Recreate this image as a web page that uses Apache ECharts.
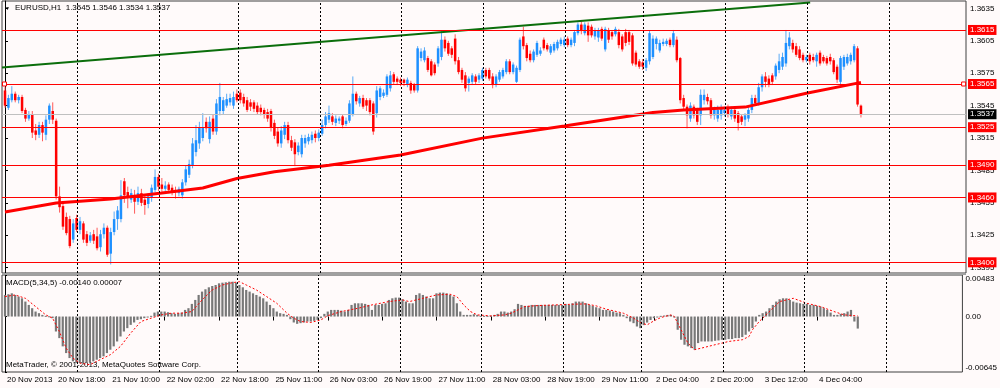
<!DOCTYPE html>
<html><head><meta charset="utf-8">
<script src="https://cdn.jsdelivr.net/npm/echarts@6/dist/echarts.min.js"></script>
<style>html,body{margin:0;padding:0;background:#fffafa;}#c{width:1000px;height:388px;}</style>
</head><body><div id="c"></div>
<script>
// ---------- DATA ----------
const headerText = 'EURUSD,H1  1.3545 1.3546 1.3534 1.3537';
const macdTitle = 'MACD(5,34,5) -0.00140 0.00007';
const copyright = 'MetaTrader, \u00a9 2001-2013, MetaQuotes Software Corp.';

// bar index -> time label (bottom axis)
const timeTicks = [[0,'20 Nov 2013'],[15,'20 Nov 18:00'],[31,'21 Nov 10:00'],[47,'22 Nov 02:00'],[63,'22 Nov 18:00'],[79,'25 Nov 11:00'],[95,'26 Nov 03:00'],[111,'26 Nov 19:00'],[127,'27 Nov 11:00'],[143,'28 Nov 03:00'],[159,'28 Nov 19:00'],[175,'29 Nov 11:00'],[191,'2 Dec 04:00'],[207,'2 Dec 20:00'],[223,'3 Dec 12:00'],[239,'4 Dec 04:00']];
// first bar of each day (period separators)
const daySeparators = [21,45,68,92,116,140,164,187,211,235,259];

const priceTicks = [1.3395,1.3425,1.3455,1.3485,1.3515,1.3545,1.3575,1.3605,1.3635];
const levels = [1.3615,1.3565,1.3525,1.3490,1.3460,1.3400];
const selectedLevel = 1.3565;
const bidPrice = 1.3537;
const macdTicks = [-0.00645, 0, 0.00483];

// H1 candles: [open, close, low, high] in units of 0.0001
const candles = [
[13559,13545,13543,13562],[13543,13552,13541,13555],[13550,13556,13548,13563],[13556,13550,13548,13558],[13550,13553,13547,13555],
[13553,13540,13538,13555],[13541,13533,13530,13543],[13533,13537,13531,13540],[13537,13520,13515,13540],[13522,13518,13513,13528],
[13518,13527,13515,13530],[13527,13520,13512,13530],[13518,13532,13513,13536],[13532,13545,13528,13547],[13540,13532,13528,13548],
[13531,13461,13458,13533],[13461,13451,13446,13470],[13452,13433,13430,13455],[13442,13427,13425,13446],[13440,13415,13413,13443],
[13421,13436,13418,13440],[13441,13430,13428,13444],[13430,13438,13426,13442],[13436,13421,13418,13438],[13426,13418,13415,13429],
[13420,13425,13418,13428],[13426,13420,13417,13430],[13424,13413,13411,13432],[13414,13426,13410,13430],[13426,13432,13422,13436],
[13432,13407,13405,13434],[13408,13428,13398,13432],[13428,13440,13425,13447],[13440,13448,13430,13452],[13440,13462,13437,13476],
[13475,13462,13455,13478],[13465,13460,13450,13470],[13458,13464,13455,13468],[13462,13456,13445,13467],[13456,13464,13453,13470],
[13464,13455,13452,13468],[13458,13453,13444,13462],[13454,13461,13450,13464],[13460,13469,13456,13472],[13467,13479,13465,13486],
[13479,13470,13466,13482],[13472,13468,13465,13478],[13468,13471,13466,13475],[13472,13467,13464,13474],[13469,13465,13462,13472],
[13467,13465,13459,13470],[13464,13468,13461,13470],[13462,13474,13459,13477],[13474,13486,13471,13490],[13481,13491,13478,13495],
[13490,13510,13487,13515],[13502,13513,13498,13527],[13510,13525,13505,13530],[13515,13525,13512,13538],[13530,13524,13520,13534],
[13514,13530,13510,13535],[13533,13521,13518,13537],[13521,13547,13518,13551],[13540,13553,13536,13566],[13540,13550,13537,13553],
[13545,13551,13543,13556],[13548,13552,13545,13556],[13545,13553,13542,13558],[13556,13550,13548,13560],[13557,13550,13547,13560],
[13553,13547,13544,13556],[13550,13541,13539,13553],[13548,13544,13540,13551],[13548,13542,13539,13550],[13545,13539,13537,13548],
[13543,13539,13536,13546],[13541,13537,13533,13543],[13539,13533,13530,13542],[13540,13525,13521,13542],[13529,13517,13514,13532],
[13521,13510,13507,13525],[13510,13522,13506,13526],[13518,13527,13514,13530],[13527,13513,13510,13530],[13513,13506,13503,13517],
[13511,13500,13489,13514],[13502,13508,13499,13511],[13500,13515,13497,13518],[13510,13515,13506,13518],[13512,13516,13509,13519],
[13513,13518,13510,13521],[13519,13515,13511,13522],[13515,13520,13512,13523],[13519,13527,13517,13532],[13527,13535,13524,13539],
[13532,13538,13529,13545],[13535,13530,13527,13538],[13529,13533,13526,13536],[13531,13533,13528,13535],[13535,13527,13524,13537],
[13528,13531,13526,13534],[13531,13547,13529,13550],[13537,13556,13535,13572],[13556,13549,13546,13558],[13547,13552,13544,13554],
[13552,13544,13542,13555],[13550,13545,13540,13552],[13550,13539,13536,13552],[13547,13521,13518,13549],[13538,13559,13534,13563],
[13553,13561,13550,13563],[13554,13557,13552,13560],[13555,13572,13553,13574],[13561,13573,13558,13577],[13574,13567,13565,13576],
[13570,13567,13564,13572],[13569,13566,13563,13571],[13569,13566,13563,13570],[13564,13569,13562,13571],[13566,13559,13556,13568],
[13564,13559,13557,13566],[13559,13598,13557,13600],[13589,13595,13586,13598],[13587,13596,13585,13599],[13589,13578,13576,13591],
[13586,13573,13572,13588],[13583,13575,13573,13585],[13584,13598,13581,13600],[13590,13606,13587,13614],[13606,13598,13595,13609],
[13603,13593,13591,13605],[13598,13592,13589,13600],[13607,13586,13583,13611],[13587,13576,13574,13590],[13578,13569,13566,13580],
[13573,13561,13558,13576],[13566,13570,13558,13572],[13567,13573,13564,13575],[13572,13567,13565,13574],[13569,13573,13566,13575],
[13570,13578,13568,13580],[13578,13572,13570,13580],[13578,13570,13568,13580],[13572,13564,13561,13575],[13564,13572,13562,13574],
[13569,13576,13567,13578],[13572,13578,13570,13580],[13576,13586,13574,13588],[13586,13576,13574,13588],[13576,13583,13574,13585],
[13567,13580,13566,13582],[13578,13606,13576,13608],[13609,13600,13597,13618],[13601,13589,13586,13603],[13593,13587,13585,13596],
[13587,13595,13585,13597],[13592,13603,13590,13605],[13593,13596,13591,13599],[13606,13598,13596,13608],[13601,13597,13595,13603],
[13594,13600,13592,13602],[13596,13602,13594,13604],[13598,13604,13596,13606],[13602,13606,13600,13608],[13601,13606,13599,13609],
[13607,13601,13599,13609],[13601,13606,13599,13608],[13603,13613,13600,13615],[13612,13620,13610,13622],[13620,13614,13611,13623],
[13612,13620,13610,13622],[13619,13610,13604,13622],[13618,13610,13608,13620],[13609,13615,13606,13617],[13608,13615,13604,13617],
[13616,13607,13605,13618],[13597,13616,13595,13618],[13615,13606,13603,13617],[13613,13609,13606,13615],[13611,13616,13609,13618],
[13613,13601,13598,13616],[13609,13597,13595,13611],[13613,13603,13600,13616],[13613,13604,13601,13615],[13610,13584,13582,13612],
[13594,13583,13581,13596],[13586,13581,13579,13588],[13585,13581,13578,13588],[13580,13587,13577,13589],[13586,13612,13583,13614],
[13590,13607,13588,13610],[13602,13607,13597,13609],[13596,13603,13594,13606],[13602,13604,13600,13607],[13602,13605,13600,13607],
[13606,13601,13599,13608],[13601,13612,13599,13615],[13606,13587,13585,13609],[13589,13550,13547,13590],[13552,13544,13540,13555],
[13544,13536,13524,13546],[13533,13545,13530,13548],[13544,13536,13533,13546],[13541,13530,13527,13543],[13536,13555,13527,13560],
[13550,13555,13546,13560],[13553,13549,13546,13556],[13550,13536,13533,13552],[13536,13541,13532,13544],[13533,13541,13530,13545],
[13536,13542,13532,13546],[13538,13541,13535,13544],[13543,13537,13534,13546],[13535,13541,13532,13544],[13541,13533,13530,13544],
[13538,13529,13522,13540],[13535,13530,13527,13537],[13532,13536,13526,13538],[13533,13541,13530,13544],[13541,13552,13538,13555],
[13552,13547,13545,13555],[13547,13562,13545,13566],[13562,13572,13558,13574],[13572,13567,13562,13576],[13570,13565,13562,13573],
[13573,13567,13564,13575],[13572,13582,13569,13584],[13578,13586,13575,13593],[13581,13590,13578,13594],[13584,13603,13581,13615],
[13600,13608,13597,13613],[13603,13597,13594,13606],[13600,13592,13590,13603],[13597,13589,13587,13600],[13592,13587,13585,13594],
[13587,13590,13585,13592],[13592,13586,13583,13594],[13590,13587,13585,13593],[13586,13592,13581,13594],[13594,13584,13582,13596],
[13590,13586,13584,13592],[13589,13584,13582,13591],[13590,13586,13583,13593],[13587,13576,13574,13589],[13581,13569,13566,13583],
[13567,13589,13565,13591],[13581,13590,13578,13592],[13584,13590,13582,13593],[13586,13592,13583,13594],[13587,13600,13585,13602],
[13598,13546,13544,13600],[13545,13537,13534,13546]
];

// MACD main (histogram), units of 0.00001, one per bar
const macdHist = [
251,259,270,251,232,212,174,135,97,58,
39,19,8,3,-19,-174,-251,-347,-425,-483,
-521,-541,-541,-548,-541,-533,-521,-502,-483,-463,
-425,-386,-347,-290,-232,-174,-135,-97,-69,-39,
-31,-19,-8,8,46,58,58,58,50,39,
31,39,46,77,97,147,193,251,290,317,
340,355,367,386,394,398,405,405,394,367,
340,309,290,270,251,232,212,174,135,97,
58,39,31,19,-31,-69,-85,-77,-69,-58,
-58,-50,-39,-19,31,58,77,77,77,69,
58,77,135,154,154,154,147,135,77,135,
135,147,154,193,212,220,220,201,174,154,
154,251,270,251,232,212,212,270,278,278,
270,251,232,154,58,19,19,19,27,19,
8,8,8,8,19,31,58,58,46,58,
85,147,135,124,124,135,135,135,135,135,
135,135,135,135,135,147,135,154,174,174,
174,154,135,124,108,97,77,77,69,58,
46,39,19,-19,-58,-77,-116,-135,-100,-70,
-40,-19,-8,8,12,19,19,-8,-154,-270,
-328,-347,-367,-386,-309,-290,-290,-290,-290,-282,
-278,-270,-270,-262,-262,-251,-251,-239,-212,-174,
-135,-58,19,39,58,97,135,174,201,212,
212,193,174,162,154,147,147,135,135,124,
116,97,77,46,19,19,31,39,58,77,
-58,-140
];

// MACD signal line read at points: [bar, value in 0.00001]
const macdSignal = [[0,232],[3,251],[6,212],[9,116],[12,19],[14,-19],[16,-174],[18,-367],[20,-483],[22,-541],[25,-560],[28,-502],[31,-444],[34,-347],[37,-193],[40,-58],[43,-19],[46,19],[49,39],[52,39],[55,58],[58,193],[61,309],[64,367],[67,394],[69,405],[71,367],[74,309],[77,232],[80,154],[83,39],[85,-19],[87,-58],[90,-69],[93,-39],[95,10],[99,58],[104,97],[108,135],[113,174],[117,193],[119,174],[123,212],[127,251],[131,259],[133,232],[135,135],[137,58],[139,19],[143,8],[147,19],[149,39],[151,77],[153,116],[157,128],[162,135],[167,143],[171,147],[174,124],[177,85],[180,58],[182,39],[185,-19],[187,-69],[189,-97],[191,-50],[193,-12],[196,19],[197,0],[199,-154],[201,-309],[203,-386],[205,-367],[209,-328],[213,-290],[217,-270],[219,-232],[220,-154],[222,-58],[224,19],[226,97],[228,174],[232,212],[236,154],[240,116],[244,58],[247,19],[251,7]];

// moving average (thick red) read at points: [bar, price]
const maLine = [[0,1.34466],[15,1.34549],[31,1.34586],[46,1.34641],[58,1.34688],[68,1.34775],[79,1.34837],[95,1.34898],[116,1.34993],[140,1.35149],[164,1.35262],[190,1.35387],[199,1.35410],[217,1.35436],[235,1.35565],[250,1.35658],[251,1.35664]];

// green trend line end points: [bar, price]
const trendLine = [[-0.88,1.35802],[236.1,1.36403]];

// ---------- CHART ----------
const FONT = 'Liberation Sans';
const X_MIN = -0.88, X_MAX = 281.8;
const SEP_OFFSET = 0.3;
const tickMap = new Map(timeTicks);

const chart = echarts.init(document.getElementById('c'), null, {renderer:'canvas'});

function levelLabel(txt, bg){
  return {show:true, position:'end', distance:2, formatter:txt, color:'#fff', backgroundColor:bg,
          padding:[1,2,0,2], fontSize:8, fontFamily:FONT, lineHeight:9};
}

const option = {
  animation:false,
  backgroundColor:'#fffafa',
  textStyle:{fontFamily:FONT},
  grid:[
    {left:2, right:34, top:1, height:272, show:true, borderColor:'#404040', borderWidth:1, backgroundColor:'transparent'},
    {left:2, right:34, top:275, height:97, show:true, borderColor:'#404040', borderWidth:1, backgroundColor:'transparent'}
  ],
  xAxis:[
    {type:'value', gridIndex:0, min:X_MIN, max:X_MAX, show:false},
    {type:'value', gridIndex:1, min:X_MIN, max:X_MAX,
     axisLine:{show:false}, splitLine:{show:false},
     axisTick:{show:true, customValues:timeTicks.map(t=>t[0]), length:4, lineStyle:{color:'#000'}},
     axisLabel:{show:true, customValues:timeTicks.map(t=>t[0]), formatter:v=>tickMap.get(Math.round(v))||'',
                align:'left', margin:4, fontSize:8, fontFamily:FONT, color:'#000', padding:[0,0,0,2]}}
  ],
  yAxis:[
    {type:'value', gridIndex:0, position:'right', min:1.33901, max:1.36418,
     axisLine:{show:true, lineStyle:{color:'#000'}}, splitLine:{show:false},
     axisTick:{show:true, customValues:priceTicks, length:3, lineStyle:{color:'#000'}},
     axisLabel:{customValues:priceTicks, formatter:v=>v.toFixed(4), margin:4, fontSize:8, fontFamily:FONT, color:'#000'}},
    {type:'value', gridIndex:1, position:'right', min:-0.00645, max:0.00483,
     axisLine:{show:true, lineStyle:{color:'#000'}}, splitLine:{show:false},
     axisTick:{show:true, customValues:macdTicks, length:2, lineStyle:{color:'#000'}},
     axisLabel:{customValues:macdTicks, formatter:v=>(Math.abs(v)<1e-9?'0.00':v.toFixed(5)), margin:3,
                fontSize:8, fontFamily:FONT, color:'#000', verticalAlignMinLabel:'bottom', verticalAlignMaxLabel:'top'}}
  ],
  graphic:[
    {type:'rect', left:2, top:273, z:1, shape:{width:964, height:2}, style:{fill:'#a0a0a0'}},
    {type:'text', left:5, top:6, z:10, style:{text:'\u25BC', fontSize:5, fontFamily:FONT, fill:'#000'}},
    {type:'text', left:15, top:4, z:10, style:{text:headerText, fontSize:8, fontFamily:FONT, fill:'#000'}},
    {type:'text', left:6, top:279, z:10, style:{text:macdTitle, fontSize:8, fontFamily:FONT, fill:'#000'}},
    {type:'text', left:6, top:361, z:0, style:{text:copyright, fontSize:8, fontFamily:FONT, fill:'#000'}}
  ],
  series:[
    {
      type:'custom', name:'candles', xAxisIndex:0, yAxisIndex:0, z:2,
      data: candles.map((r,i)=>[i, r[0]/1e4, r[1]/1e4, r[2]/1e4, r[3]/1e4]),
      encode:{x:0, y:[1,2,3,4]},
      renderItem:(params, api)=>{
        const i=api.value(0), o=api.value(1), c=api.value(2), l=api.value(3), h=api.value(4);
        const po=api.coord([i,o]), pc=api.coord([i,c]), pl=api.coord([i,l]), ph=api.coord([i,h]);
        const up = c>=o;
        const cx = po[0];
        const top = Math.min(po[1],pc[1]);
        const bh = Math.max(1, Math.abs(po[1]-pc[1]));
        return {type:'group', children:[
          {type:'line', shape:{x1:cx, y1:ph[1], x2:cx, y2:pl[1]}, style:{stroke: up?'#5aaaf5':'#ff5a5a', lineWidth:1}},
          {type:'rect', shape:{x:cx-1.25, y:top, width:2.5, height:bh}, style:{fill: up?'#1e90ff':'#ff0000'}}
        ]};
      }
    },
    {
      type:'line', name:'MA', xAxisIndex:0, yAxisIndex:0, z:3, symbol:'none', silent:true,
      data: maLine, lineStyle:{color:'#ff0000', width:3}
    },
    {
      type:'line', name:'trend', xAxisIndex:0, yAxisIndex:0, z:4, symbol:'none', silent:true,
      data: trendLine, lineStyle:{color:'#0b6e0b', width:2},
      markLine:{
        symbol:'none', silent:true, animation:false, precision:6,
        data:[
          ...daySeparators.map(d=>({xAxis:d+SEP_OFFSET, lineStyle:{color:'#000', type:[2,2], width:1}, label:{show:false}})),
          {yAxis:bidPrice, lineStyle:{color:'#c0c0c0', type:'solid', width:1}, label:levelLabel(bidPrice.toFixed(4), '#000')},
          ...levels.map(v=>({yAxis:v, lineStyle:{color:'#ff0000', type:'solid', width:1}, label:levelLabel(v.toFixed(4), '#ff0000')}))
        ]
      },
      markPoint:{
        symbol:'rect', symbolSize:4, silent:true, animation:false,
        itemStyle:{color:'#ffffff', borderColor:'#ff0000', borderWidth:1},
        label:{show:false},
        data:[{coord:[-0.15, selectedLevel]}, {coord:[281.1, selectedLevel]}]
      }
    },
    {
      type:'custom', name:'MACD', xAxisIndex:1, yAxisIndex:1, z:2,
      data: macdHist.map((v,i)=>[i, v/1e5]),
      encode:{x:0, y:1},
      renderItem:(params, api)=>{
        const i=api.value(0), v=api.value(1);
        const a=api.coord([i,0]), b=api.coord([i,v]);
        return {type:'rect', shape:{x:a[0]-1.1, y:Math.min(a[1],b[1]), width:2.2, height:Math.max(1,Math.abs(a[1]-b[1]))}, style:{fill:'#787878'}};
      }
    },
    {
      type:'line', name:'Signal', xAxisIndex:1, yAxisIndex:1, z:3, symbol:'none', silent:true,
      data: macdSignal.map(p=>[p[0], p[1]/1e5]), lineStyle:{color:'#ff0000', width:1, type:[2,2]},
      markLine:{
        symbol:'none', silent:true, animation:false, precision:6,
        data: daySeparators.map(d=>({xAxis:d+SEP_OFFSET, lineStyle:{color:'#000', type:[2,2], width:1}, label:{show:false}}))
      }
    }
  ]
};
chart.setOption(option);
</script>
</body></html>
